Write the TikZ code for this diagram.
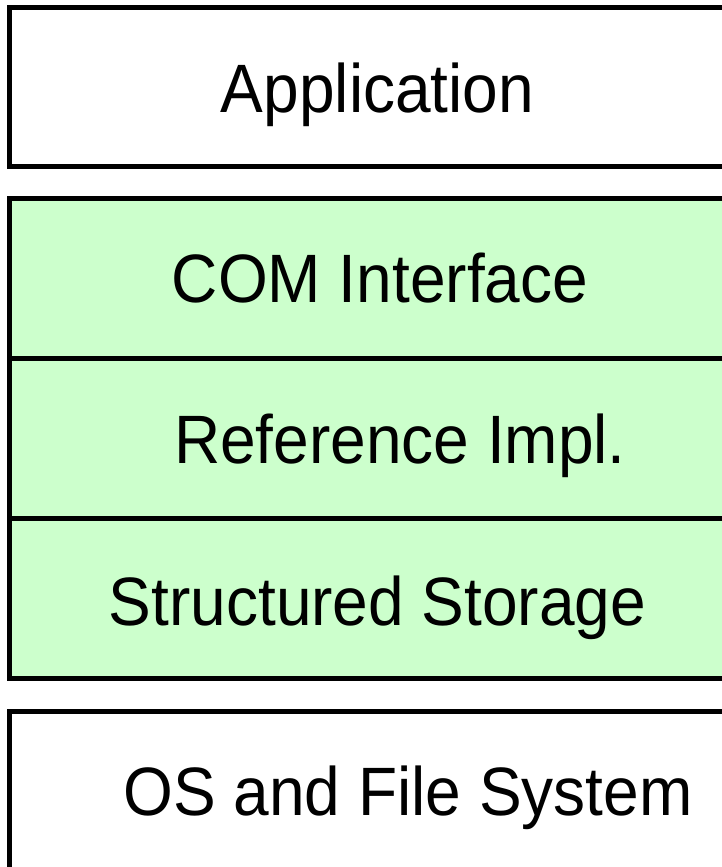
\documentclass[tikz,border=0pt]{standalone}
\usepackage{fontspec}
\setmainfont{Liberation Sans}
\definecolor{layergreen}{RGB}{204,255,204}
\newcommand{\layertext}[1]{\scalebox{1}[1.07]{#1}}
\begin{document}
\begin{tikzpicture}[x=1pt,y=-1pt,
  layer/.style={draw=black,line width=5pt,rectangle,inner sep=0pt,minimum width=750.5pt},
  greenlayer/.style={layer,fill=layergreen},
  whitelayer/.style={layer,fill=white},
  lbl/.style={anchor=base,inner sep=0pt,font=\fontsize{64}{77}\selectfont}]
\useasboundingbox (0,0) rectangle (722,867);
\clip (0,0) rectangle (722,867);
\node[whitelayer,minimum height=159pt] (app) at (384.75,87) {};
\node[greenlayer,minimum height=159.5pt] (com) at (384.75,278.25) {};
\node[greenlayer,minimum height=160.5pt] (ref) at (384.75,438.25) {};
\node[greenlayer,minimum height=159.5pt] (ss) at (384.75,598.25) {};
\node[whitelayer,minimum height=159pt] (os) at (384.75,791) {};
\node[lbl] (tapp) at (377.5,112) {\layertext{Application}};
\node[lbl] (tcom) at (380,302) {\layertext{COM Interface}};
\node[lbl] (tref) at (400,463) {\layertext{Reference Impl.}};
\node[lbl] (tss) at (377.5,625) {\layertext{Structured Storage}};
\node[lbl] (tos) at (408,815) {\layertext{OS and File System}};
\end{tikzpicture}
\end{document}
